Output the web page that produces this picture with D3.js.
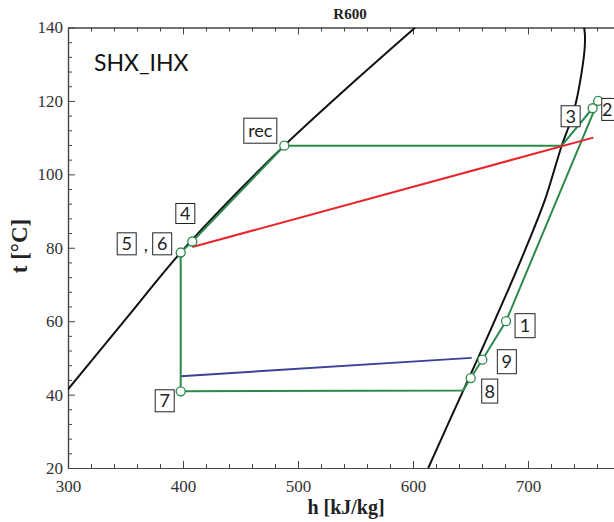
<!DOCTYPE html>
<html>
<head>
<meta charset="utf-8">
<script src="https://cdn.jsdelivr.net/npm/d3@7"></script>
<style>
  html, body { margin: 0; padding: 0; background: #fff; }
  svg { display: block; }
</style>
</head>
<body>
<div id="chart"></div>
<script>
// ---------------- DATA ----------------
const chartTitle = "R600";
const cycleName = "SHX_IHX";
const xTitle = "h [kJ/kg]";
const yTitle = "t [°C]";

const hTicks = [300, 400, 500, 600, 700, 800];
const hTickLabels = ["300", "400", "500", "600", "700", ""];   // 800 lies outside the visible picture
const tTicks = [20, 40, 60, 80, 100, 120, 140];

// saturated liquid line (h, t)
const liqH = [300, 350, 398, 450, 488, 550, 602];
const liqT = [41.4, 60.5, 78.7, 96.0, 107.8, 125.6, 140];

// saturated vapour line (h, t)
const vapH = [613.3, 632.2, 656.6, 682.9, 700, 714.8, 729.3, 736, 742, 746.5, 749.2, 749.5, 748.8];
const vapT = [20, 33.2, 50, 68.6, 81.3, 93.1, 107.8, 113.5, 120, 127.5, 134, 138, 140];

// cycle path (green)
const cycleH = [398, 643.5, 650.2, 660.3, 680.9, 761.1, 756.2, 729.3, 488.1, 408.1, 398, 398];
const cycleT = [40.9, 41.1, 44.5, 49.5, 60.0, 120.0, 118.0, 107.8, 107.8, 81.7, 78.7, 40.9];

// state points
const stateNames = ["1", "2", "3", "4", "5,6", "7", "8", "9", "rec"];
const stateH = [680.9, 761.1, 756.2, 408.1, 398, 398, 650.2, 660.3, 488.1];
const stateT = [60.0, 120.0, 118.0, 81.7, 78.7, 40.9, 44.5, 49.5, 107.8];

// heat source/sink lines
const redH = [408.1, 756.8];
const redT = [80.2, 110.0];
const blueH = [398, 651];
const blueT = [45.0, 50.0];

// ---------------- LAYOUT ----------------
const W = 614, H = 522;
const plot = { left: 68, right: 643, top: 27.5, bottom: 468 };

// label box offsets (pixels, relative to state point)
const labelLayout = {
  "1":   [{ text: "1",  dx: 19,  dy: 4.5, w: 20, h: 24 }],
  "2":   [{ text: "2",  dx: 13.5, dy: 8.5, w: 20, h: 22, tdx: -4.5 }],
  "3":   [{ text: "3",  dx: -22, dy: 8,   w: 19, h: 21 }],
  "4":   [{ text: "4",  dx: -7,  dy: -28, w: 19, h: 20 }],
  "5,6": [{ text: "5",  dx: -54, dy: -8.7, w: 19, h: 22 },
          { text: "6",  dx: -18.5, dy: -8.7, w: 19, h: 22 }],
  "7":   [{ text: "7",  dx: -16, dy: 9.5, w: 19, h: 22 }],
  "8":   [{ text: "8",  dx: 19,  dy: 13,  w: 16, h: 24 }],
  "9":   [{ text: "9",  dx: 24.5, dy: 2,  w: 19, h: 24 }],
  "rec": [{ text: "rec", dx: -24, dy: -15, w: 33, h: 25 }]
};

const GREEN = "#2b8a4b", RED = "#e8252b", BLUE = "#3b429b", BLACK = "#111";

const svg = d3.select("#chart").append("svg")
  .attr("width", W).attr("height", H)
  .style("background", "#fff");

const x = d3.scaleLinear().domain([300, 800]).range([plot.left, plot.right]);
const y = d3.scaleLinear().domain([20, 140]).range([plot.bottom, plot.top]);

svg.append("defs").append("clipPath").attr("id", "clip")
  .append("rect")
  .attr("x", plot.left).attr("y", plot.top)
  .attr("width", plot.right - plot.left).attr("height", plot.bottom - plot.top);

// ---------------- AXES ----------------
const serif = "'Liberation Serif', 'Times New Roman', serif";
const minorH = d3.range(300, 801, 20).filter(v => !hTicks.includes(v));
const minorT = d3.range(20, 141, 4).filter(v => !tTicks.includes(v));

function styleAxis(g) {
  g.select(".domain").attr("stroke", "#444").attr("stroke-width", 1.2);
  g.selectAll(".tick line").attr("stroke", "#444").attr("stroke-width", 1);
  g.selectAll(".tick text").attr("fill", "#333").style("font-family", serif).style("font-size", "17px");
}

// bottom
svg.append("g").attr("transform", `translate(0,${plot.bottom})`)
  .call(d3.axisBottom(x).tickValues(hTicks).tickFormat((d, i) => hTickLabels[i]).tickSize(-7).tickPadding(12).tickSizeOuter(0))
  .call(styleAxis);
svg.append("g").attr("transform", `translate(0,${plot.bottom})`)
  .call(d3.axisBottom(x).tickValues(minorH).tickFormat("").tickSize(-4).tickSizeOuter(0))
  .call(styleAxis);
// top
svg.append("g").attr("transform", `translate(0,${plot.top})`)
  .call(d3.axisTop(x).tickValues(hTicks).tickFormat("").tickSize(-7).tickSizeOuter(0))
  .call(styleAxis);
svg.append("g").attr("transform", `translate(0,${plot.top})`)
  .call(d3.axisTop(x).tickValues(minorH).tickFormat("").tickSize(-4).tickSizeOuter(0))
  .call(styleAxis);
// left
svg.append("g").attr("transform", `translate(${plot.left},0)`)
  .call(d3.axisLeft(y).tickValues(tTicks).tickFormat(d3.format("d")).tickSize(-7).tickPadding(5).tickSizeOuter(0))
  .call(styleAxis);
svg.append("g").attr("transform", `translate(${plot.left},0)`)
  .call(d3.axisLeft(y).tickValues(minorT).tickFormat("").tickSize(-4).tickSizeOuter(0))
  .call(styleAxis);
// right
svg.append("g").attr("transform", `translate(${plot.right},0)`)
  .call(d3.axisRight(y).tickValues(tTicks).tickFormat("").tickSize(-7).tickSizeOuter(0))
  .call(styleAxis);

// titles
svg.append("text").attr("x", 350).attr("y", 19).attr("text-anchor", "middle")
  .style("font-family", serif).style("font-weight", "bold").style("font-size", "15px")
  .attr("fill", "#222").text(chartTitle);
svg.append("text").attr("x", 346).attr("y", 514).attr("text-anchor", "middle")
  .style("font-family", serif).style("font-weight", "bold").style("font-size", "20px")
  .attr("fill", "#222").text(xTitle);
svg.append("text").attr("transform", "translate(27,246) rotate(-90)").attr("text-anchor", "middle")
  .style("font-family", serif).style("font-weight", "bold").style("font-size", "23px")
  .attr("fill", "#222").text(yTitle);

svg.append("text").attr("x", 94).attr("y", 71)
  .style("font-family", "Lato, 'Open Sans', sans-serif").style("font-size", "23px")
  .attr("fill", "#111").text(cycleName);

// ---------------- LINES ----------------
const plotG = svg.append("g").attr("clip-path", "url(#clip)");
const line = d3.line().x(d => x(d[0])).y(d => y(d[1]));
const smooth = d3.line().x(d => x(d[0])).y(d => y(d[1])).curve(d3.curveCatmullRom.alpha(0.5));

plotG.append("path").datum(d3.zip(liqH, liqT)).attr("d", smooth)
  .attr("fill", "none").attr("stroke", BLACK).attr("stroke-width", 2);
plotG.append("path").datum(d3.zip(vapH, vapT)).attr("d", smooth)
  .attr("fill", "none").attr("stroke", BLACK).attr("stroke-width", 2);

plotG.append("path").datum(d3.zip(blueH, blueT)).attr("d", line)
  .attr("fill", "none").attr("stroke", BLUE).attr("stroke-width", 2);
plotG.append("path").datum(d3.zip(cycleH, cycleT)).attr("d", line)
  .attr("fill", "none").attr("stroke", GREEN).attr("stroke-width", 2).attr("stroke-linejoin", "round");
plotG.append("path").datum(d3.zip(redH, redT)).attr("d", line)
  .attr("fill", "none").attr("stroke", RED).attr("stroke-width", 2);

// state points
const states = stateNames.map((n, i) => ({ name: n, h: stateH[i], t: stateT[i] }));
svg.append("g").selectAll("circle").data(states).join("circle")
  .attr("cx", d => x(d.h)).attr("cy", d => y(d.t)).attr("r", 4.5)
  .attr("fill", "#fff").attr("stroke", GREEN).attr("stroke-width", 1.3);

// label boxes
const labG = svg.append("g");
states.forEach(s => {
  const px = x(s.h), py = y(s.t);
  (labelLayout[s.name] || []).forEach(b => {
    const cx = px + b.dx, cy = py + b.dy;
    labG.append("rect").attr("x", cx - b.w / 2).attr("y", cy - b.h / 2)
      .attr("width", b.w).attr("height", b.h)
      .attr("fill", "#fff").attr("stroke", "#222").attr("stroke-width", 1);
    labG.append("text").attr("x", cx + (b.tdx || 0)).attr("y", cy).attr("dy", "0.36em")
      .attr("text-anchor", "middle")
      .style("font-family", "Lato, 'Open Sans', sans-serif").style("font-size", "18px")
      .attr("fill", "#222").text(b.text);
  });
  if (s.name === "5,6") {
    labG.append("text").attr("x", px - 35).attr("y", py - 2)
      .attr("text-anchor", "middle")
      .style("font-family", "Lato, 'Open Sans', sans-serif").style("font-size", "18px")
      .attr("fill", "#222").text(",");
  }
});
</script>
</body>
</html>
